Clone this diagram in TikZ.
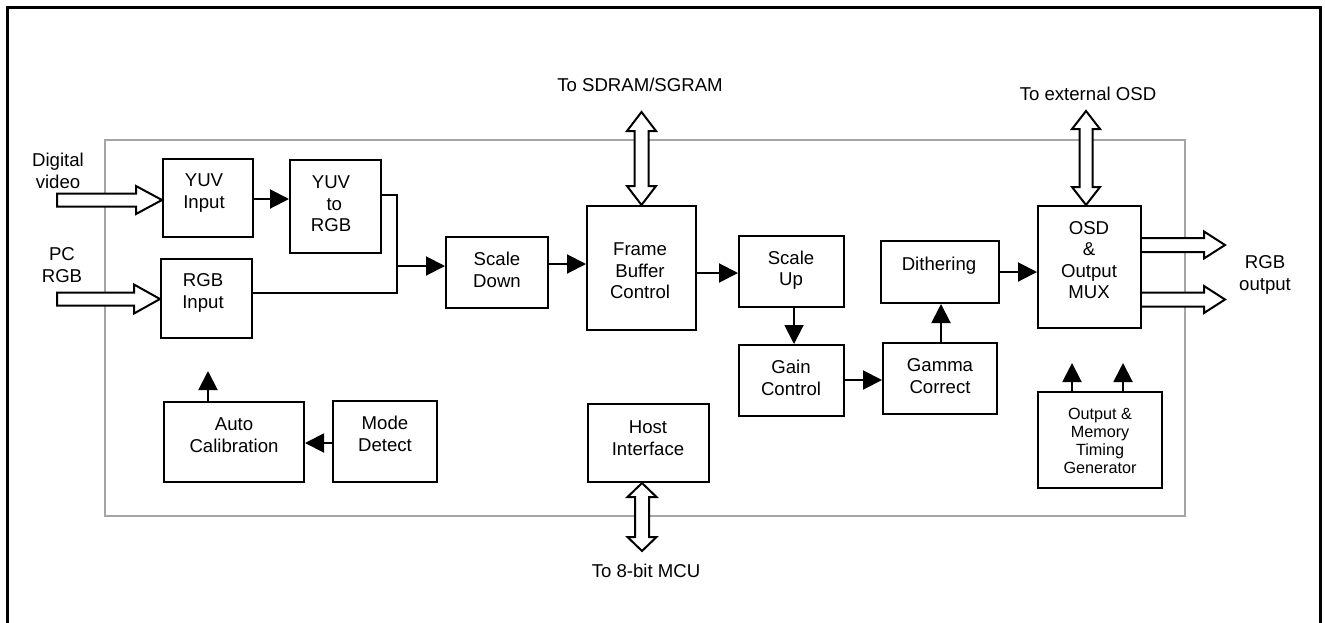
\documentclass[tikz,border=0pt]{standalone}
\usepackage{fontspec}
\setmainfont{Liberation Sans}
\usetikzlibrary{arrows.meta,fit,calc}
\definecolor{framegray}{RGB}{165,165,165}
\tikzset{
 blk/.style={draw, line width=1pt, inner sep=0pt},
 txt/.style={align=center, font=\fontsize{9.3}{10.7}\selectfont, inner sep=0pt},
 smalltxt/.style={align=center, font=\fontsize{8.1}{9}\selectfont, inner sep=0pt},
 arr/.style={line width=1pt, -{Triangle[length=9.5pt,width=9.5pt]}},
 plainline/.style={line width=1pt},
 hollow/.style={draw, line width=1pt, fill=white, line join=miter},
}
\begin{document}
\begin{tikzpicture}[x=0.5pt,y=-0.5pt]
\useasboundingbox (0,0) rectangle (1325,622);
\clip (0,0) rectangle (1325,622);
\draw[line width=1.5pt] (7,650) -- (7,7) -- (1320,7) -- (1320,650);
\draw[framegray, line width=1pt] (105,140) rectangle (1185,516);

% boxes
\node[blk, fit={(163,159)(253,237)}] (yuvin) {};
\node[blk, fit={(290,160)(381,253)}] (yuv2rgb) {};
\node[blk, fit={(161,259)(252,338)}] (rgbin) {};
\node[blk, fit={(446,237)(548,308)}] (sd) {};
\node[blk, fit={(587,206)(696,330)}] (fbc) {};
\node[blk, fit={(739,236)(844,307)}] (su) {};
\node[blk, fit={(739,345)(844,416)}] (gc) {};
\node[blk, fit={(883,343)(997,414)}] (gam) {};
\node[blk, fit={(881,241)(999,303)}] (dith) {};
\node[blk, fit={(1038,206)(1141,328)}] (osd) {};
\node[blk, fit={(1038,392)(1162,488)}] (tg) {};
\node[blk, fit={(164,402)(304,482)}] (autocal) {};
\node[blk, fit={(333,401)(437,482)}] (mode) {};
\node[blk, fit={(588,404)(709,482)}] (host) {};

% box texts
\node[txt] (yuvinT) at (204,193) {YUV\\Input};
\node[txt] (yuv2rgbT) at (331,204) {YUV\\\hspace*{0.35em}to\\RGB};
\node[txt] (rgbinT) at (203,293) {RGB\\Input};
\node[txt] (sdT) at (497,270) {Scale\\Down};
\node[txt] (fbcT) at (640,271) {Frame\\Buffer\\Control};
\node[txt] (suT) at (791,270) {Scale\\Up};
\node[txt] (gcT) at (791,378) {Gain\\Control};
\node[txt] (gamT) at (940,376) {Gamma\\Correct};
\node[txt] (dithT) at (939,266) {Dithering};
\node[txt] (osdT) at (1089,260) {OSD\\\&\\Output\\MUX};
\node[smalltxt] (tgT) at (1100,441) {Output \&\\Memory\\Timing\\Generator};
\node[txt] (autocalT) at (234,435) {Auto\\Calibration};
\node[txt] (modeT) at (385,434) {Mode\\Detect};
\node[txt] (hostT) at (648,438) {Host\\Interface};

% outside labels
\node[txt] (dv) at (58,171) {Digital\\video};
\node[txt] (pc) at (62,265) {PC\\RGB};
\node[txt] (rgbo) at (1265,275) {RGB\\output};
\node[txt] (sdram) at (640,85) {To SDRAM/SGRAM};
\node[txt] (extosd) at (1088,94) {To external OSD};
\node[txt] (mcu) at (646,571) {To 8-bit MCU};

% connectors
\draw[arr] (yuvin.east |- 0,199) -- (yuv2rgb.west |- 0,199);
\coordinate (join) at (397,266);
\draw[plainline] (yuv2rgb.east |- 0,195) -| (join) |- (rgbin.east |- 0,293);
\draw[arr] (join) -- (sd.west |- join);
\draw[arr] (sd.east |- 0,264) -- (fbc.west |- 0,264);
\draw[arr] (fbc.east |- 0,273) -- (su.west |- 0,273);
\draw[arr] (su.south -| 794,0) -- (gc.north -| 794,0);
\draw[arr] (gc.east |- 0,380) -- (gam.west |- 0,380);
\draw[arr] (gam.north -| 941,0) -- (dith.south -| 941,0);
\draw[arr] (dith.east) -- (osd.west |- dith.east);
\coordinate (tg1) at (1072,363);
\coordinate (tg2) at (1123,363);
\draw[arr] (tg.north -| tg1) -- (tg1);
\draw[arr] (tg.north -| tg2) -- (tg2);
\draw[arr] (mode.west |- 0,443) -- (autocal.east |- 0,443);
\coordinate (ac) at (208,371);
\draw[arr] (autocal.north -| ac) -- (ac);

% hollow arrows
\draw[hollow] (yuvin.west |- 0,200) -- ++(-26,-14) -- ++(0,7.5) -- ++(-79,0) -- ++(0,13) -- ++(79,0) -- ++(0,7.5) -- cycle;
\draw[hollow] (rgbin.west |- 0,299) -- ++(-26,-14.5) -- ++(0,8) -- ++(-77,0) -- ++(0,13) -- ++(77,0) -- ++(0,8) -- cycle;
\draw[hollow] (fbc.north) -- ++(-14.5,-19) -- ++(7.5,0) -- ++(0,-55) -- ++(-7.5,0) -- ++(14.5,-19) -- ++(14.5,19) -- ++(-7.5,0) -- ++(0,55) -- ++(7.5,0) -- cycle;
\draw[hollow] (1086,0 |- osd.north) -- ++(-14,-18) -- ++(7.5,0) -- ++(0,-58) -- ++(-7.5,0) -- ++(14,-18) -- ++(14,18) -- ++(-7.5,0) -- ++(0,58) -- ++(7.5,0) -- cycle;
\draw[hollow] (642,0 |- host.south) -- ++(-14.5,14) -- ++(7.5,0) -- ++(0,40) -- ++(-7.5,0) -- ++(14.5,14) -- ++(14.5,-14) -- ++(-7.5,0) -- ++(0,-40) -- ++(7.5,0) -- cycle;
\draw[hollow] (osd.east |- 0,238) -- ++(62,0) -- ++(0,-6.5) -- ++(21,13.5) -- ++(-21,13.5) -- ++(0,-6.5) -- ++(-62,0);
\draw[hollow] (osd.east |- 0,292.5) -- ++(62,0) -- ++(0,-6.5) -- ++(21,13.5) -- ++(-21,13.5) -- ++(0,-6.5) -- ++(-62,0);
\end{tikzpicture}
\end{document}
